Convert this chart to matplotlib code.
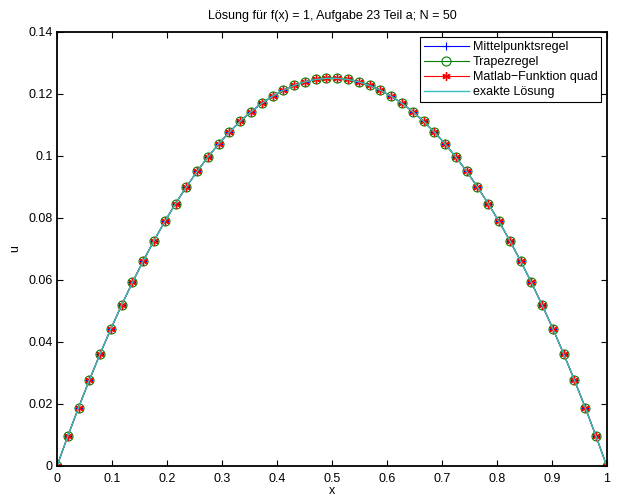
import matplotlib
matplotlib.use('Agg')
import matplotlib.pyplot as plt

plt.rcParams['font.family'] = ['Liberation Sans', 'DejaVu Sans']
plt.rcParams['font.size'] = 9

# Gitterpunkte x_i = i/51 (N = 50 innere Punkte)
x = [0.0, 0.0196, 0.0392, 0.0588, 0.0784, 0.0980, 0.1176, 0.1373, 0.1569, 0.1765,
     0.1961, 0.2157, 0.2353, 0.2549, 0.2745, 0.2941, 0.3137, 0.3333, 0.3529, 0.3725,
     0.3922, 0.4118, 0.4314, 0.4510, 0.4706, 0.4902, 0.5098, 0.5294, 0.5490, 0.5686,
     0.5882, 0.6078, 0.6275, 0.6471, 0.6667, 0.6863, 0.7059, 0.7255, 0.7451, 0.7647,
     0.7843, 0.8039, 0.8235, 0.8431, 0.8627, 0.8824, 0.9020, 0.9216, 0.9412, 0.9608,
     0.9804, 1.0]

u_mittel = [0.0, 0.00961, 0.01884, 0.02768, 0.03614, 0.04421, 0.05190, 0.05921, 0.06613, 0.07266,
            0.07882, 0.08458, 0.08997, 0.09496, 0.09958, 0.10381, 0.10765, 0.11111, 0.11419, 0.11688,
            0.11919, 0.12111, 0.12265, 0.12380, 0.12457, 0.12495, 0.12495, 0.12457, 0.12380, 0.12265,
            0.12111, 0.11919, 0.11688, 0.11419, 0.11111, 0.10765, 0.10381, 0.09958, 0.09496, 0.08997,
            0.08458, 0.07882, 0.07266, 0.06613, 0.05921, 0.05190, 0.04421, 0.03614, 0.02768, 0.01884,
            0.00961, 0.0]
u_trapez = list(u_mittel)
u_quad = list(u_mittel)
u_exakt = list(u_mittel)

fig = plt.figure(figsize=(6.17, 4.97), dpi=100)
ax = fig.add_axes([0.0924, 0.0624, 0.891, 0.874])

ax.plot(x, u_mittel, color='b', marker='+', ms=6, mew=0.8, lw=0.8, label='Mittelpunktsregel')
ax.plot(x, u_trapez, color=(0, 0.5, 0), marker='o', mfc='none', ms=6.5, mew=0.8, lw=0.8, label='Trapezregel')
ax.plot(x, u_quad, color='r', marker=(6, 2, 0), ms=6, mew=1.0, lw=0.8, label='Matlab\u2212Funktion quad')
ax.plot(x, u_exakt, color=(0.2, 0.75, 0.75), lw=1.0, label='exakte L\u00f6sung')

ax.set_xlim(0, 1)
ax.set_ylim(0, 0.14)
ax.set_xticks([0, 0.1, 0.2, 0.3, 0.4, 0.5, 0.6, 0.7, 0.8, 0.9, 1])
ax.set_xticklabels(['0', '0.1', '0.2', '0.3', '0.4', '0.5', '0.6', '0.7', '0.8', '0.9', '1'])
ax.set_yticks([0, 0.02, 0.04, 0.06, 0.08, 0.1, 0.12, 0.14])
ax.set_yticklabels(['0', '0.02', '0.04', '0.06', '0.08', '0.1', '0.12', '0.14'])
ax.tick_params(direction='in', top=True, right=True, length=4, width=0.8)
ax.tick_params(axis='x', pad=5)
ax.tick_params(axis='y', pad=3)
for s in ax.spines.values():
    s.set_linewidth(1.3)

ax.set_xlabel('x', labelpad=0)
ax.set_ylabel('u', labelpad=5)
ax.set_title('L\u00f6sung f\u00fcr f(x) = 1, Aufgabe 23 Teil a; N = 50', fontsize=9, pad=9)

leg = ax.legend(loc='upper right', fancybox=False, edgecolor='k', framealpha=1,
                borderaxespad=0.45, handlelength=3.6, borderpad=0.3, labelspacing=0.25,
                handletextpad=0.3, fontsize=9)
leg.get_frame().set_linewidth(0.8)

fig.savefig('out.png', dpi=100)
